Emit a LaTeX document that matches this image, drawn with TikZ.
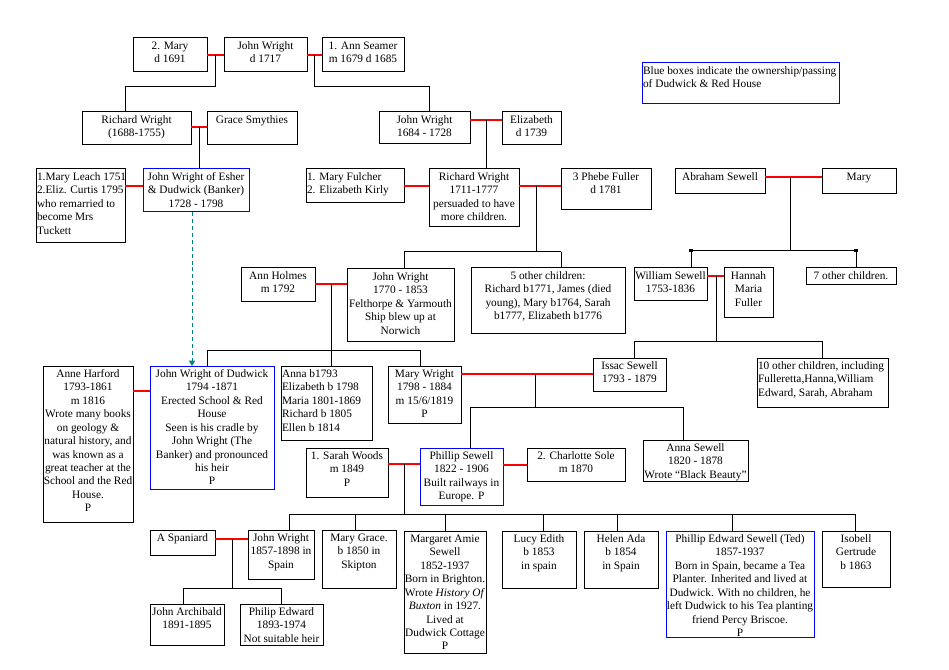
\documentclass[tikz,border=0pt]{standalone}
\usepackage{fontspec}
\setmainfont{Liberation Serif}
\usetikzlibrary{arrows.meta,calc}
\definecolor{boxblue}{RGB}{0,0,255}
\definecolor{marred}{RGB}{255,0,0}
\definecolor{dashteal}{RGB}{0,128,128}
\newcommand\famfont{\fontsize{8.5pt}{10.1pt}\selectfont}
\newcommand\CA{\centering}
\newcommand\LA{\raggedright\leftskip=0.8pt\relax}
\newcommand\fitline[1]{\makebox[\linewidth]{#1}}
% name x1 y1 x2 y2 style align text
\newcommand\pbx[8]{%
  \pgfmathsetlengthmacro\famw{(#4-#2)*0.75pt}%
  \pgfmathsetlengthmacro\famh{(#5-#3)*0.75pt}%
  \node[#6, anchor=north west] (#1) at (#2,#3)
    {\parbox[c][\famh][t]{\famw}{\famfont#7\rule{0pt}{8.4pt}#8}};%
}
\begin{document}
\begin{tikzpicture}[x=0.75pt,y=-0.75pt,
  box/.style={draw=black, line width=0.75pt, inner sep=0pt, outer sep=0pt},
  bluebox/.style={box, draw=boxblue},
  ln/.style={draw=black, line width=0.75pt},
  mar/.style={draw=marred, line width=0.8pt},
  dashln/.style={draw=dashteal, line width=0.75pt, dash pattern=on 3pt off 2.2pt,
    -{Triangle[width=4.5pt,length=4pt]}}]
\useasboundingbox (0,0) rectangle (949,670);
\fill[white] (0,0) rectangle (949,670);

% ---------- boxes ----------
\pbx{mary2}{133}{38}{207}{72}{box}{\CA}{2. Mary\\d 1691}
\pbx{jw1717}{224}{38}{307}{72}{box}{\CA}{John Wright\\d 1717}
\pbx{ann}{322}{38}{404}{72}{box}{\CA}{1. Ann Seamer\\m 1679 d 1685}
\pbx{rw1688}{82}{112}{191}{145}{box}{\CA}{Richard Wright\\(1688-1755)}
\pbx{grace}{207}{112}{297}{145}{box}{\CA}{Grace Smythies}
\pbx{jw1684}{379}{112}{470}{144}{box}{\CA}{John Wright\\1684 - 1728}
\pbx{eliz}{502}{112}{561}{145}{box}{\CA}{Elizabeth\\d 1739}
\pbx{legend}{642}{63}{839}{104}{bluebox}{\LA}{Blue boxes indicate the ownership/passing\\of Dudwick \& Red House}
\pbx{leach}{36}{169}{125}{243}{box}{\LA}{\mbox{1.Mary Leach 1751}\\\mbox{2.Eliz. Curtis 1795}\\who remarried to\\become Mrs\\Tuckett}
\pbx{esher}{143}{169}{249}{212}{bluebox}{\CA}{John Wright of Esher\\\& Dudwick (Banker)\\1728 - 1798}
\pbx{fulcher}{306}{169}{404}{203}{box}{\LA}{1. Mary Fulcher\\2. Elizabeth Kirly}
\pbx{rw1711}{429}{169}{519}{227}{box}{\CA}{Richard Wright\\1711-1777\\persuaded to have\\more children.}
\pbx{phebe}{561}{169}{651}{210}{box}{\CA}{3 Phebe Fuller\\d 1781}
\pbx{abraham}{675}{169}{765}{194}{box}{\CA}{Abraham Sewell}
\pbx{marys}{822}{169}{896}{194}{box}{\CA}{Mary}
\pbx{holmes}{241}{268}{315}{301}{box}{\CA}{Ann Holmes\\m 1792}
\pbx{jw1770}{347}{269}{454}{341}{box}{\CA}{John Wright\\1770 - 1853\\\fitline{Felthorpe \& Yarmouth}\\Ship blew up at\\Norwich}
\pbx{other5}{471}{268}{625}{333}{box}{\CA}{5 other children:\\Richard b1771, James (died\\young), Mary b1764, Sarah\\b1777, Elizabeth b1776}
\pbx{william}{634}{268}{707}{300}{box}{\CA}{William Sewell\\1753-1836}
\pbx{hannah}{724}{268}{773}{317}{box}{\CA}{Hannah\\Maria\\Fuller}
\pbx{other7}{806}{268}{896}{284}{box}{\CA}{7 other children.}
\pbx{harford}{43}{366}{133}{522}{box}{\CA}{Anne Harford\\1793-1861\\m 1816\\Wrote many books\\on geology \&\\\fitline{natural history, and}\\was known as a\\\fitline{great teacher at the}\\\fitline{School and the Red}\\House.\\P}
\pbx{dudwick}{150}{366}{274}{489}{bluebox}{\CA}{John Wright of Dudwick\\1794 -1871\\Erected School \& Red\\House\\Seen is his cradle by\\John Wright (The\\\fitline{Banker) and pronounced}\\his heir\\P}
\pbx{anna1793}{281}{366}{372}{440}{box}{\LA}{Anna b1793\\Elizabeth b 1798\\Maria 1801-1869\\Richard b 1805\\Ellen b 1814}
\pbx{maryw}{388}{366}{461}{423}{box}{\CA}{Mary Wright\\1798 - 1884\\m 15/6/1819\\P}
\pbx{issac}{593}{358}{666}{391}{box}{\CA}{Issac Sewell\\1793 - 1879}
\pbx{other10}{757}{358}{888}{407}{box}{\LA}{\mbox{10 other children, including}\\Fulleretta,Hanna,William\\Edward, Sarah, Abraham}
\pbx{sarah}{306}{448}{388}{497}{box}{\CA}{1. Sarah Woods\\m 1849\\P}
\pbx{phillip}{420}{448}{503}{505}{bluebox}{\CA}{Phillip Sewell\\1822 - 1906\\Built railways in\\Europe. P}
\pbx{charlotte}{527}{448}{625}{481}{box}{\CA}{2. Charlotte Sole\\m 1870}
\pbx{annas}{643}{440}{748}{481}{box}{\CA}{Anna Sewell\\1820 - 1878\\\fitline{Wrote “Black Beauty”}}
\pbx{spaniard}{150}{530}{215}{555}{box}{\CA}{A Spaniard}
\pbx{jw1857}{248}{530}{314}{579}{box}{\CA}{John Wright\\1857-1898 in\\Spain}
\pbx{marygrace}{322}{530}{396}{588}{box}{\CA}{Mary Grace.\\b 1850 in\\Skipton}
\pbx{margaret}{404}{531}{486}{653}{box}{\CA}{Margaret Amie\\Sewell\\1852-1937\\\fitline{Born in Brighton.}\\\fitline{Wrote \textit{History Of}}\\\fitline{\textit{Buxton} in 1927.}\\Lived at\\\fitline{Dudwick Cottage}\\P}
\pbx{lucy}{502}{531}{576}{588}{box}{\CA}{Lucy Edith\\b 1853\\in spain}
\pbx{helen}{584}{531}{658}{588}{box}{\CA}{Helen Ada\\b 1854\\in Spain}
\pbx{ted}{666}{531}{814}{637}{bluebox}{\CA}{Phillip Edward Sewell (Ted)\\1857-1937\\Born in Spain, became a Tea\\\fitline{Planter. Inherited and lived at}\\\fitline{Dudwick. With no children, he}\\\fitline{left Dudwick to his Tea planting}\\friend Percy Briscoe.\\P}
\pbx{isobell}{822}{531}{890}{587}{box}{\CA}{Isobell\\Gertrude\\b 1863}
\pbx{archibald}{150}{604}{224}{645}{box}{\CA}{John Archibald\\1891-1895}
\pbx{philipe}{240}{604}{323}{645}{box}{\CA}{Philip Edward\\1893-1974\\\fitline{Not suitable heir}}

% ---------- junction coordinates ----------
\coordinate (j1) at (215,55);  \coordinate (b1) at (125,87);
\coordinate (j2) at (314,55);  \coordinate (b2) at (429,87);
\coordinate (j3) at (199,127);
\coordinate (j4) at (486,120);
\coordinate (j5) at (134,186);
\coordinate (j6) at (416,186);
\coordinate (j7) at (536,186); \coordinate (b7l) at (404,252); \coordinate (b7r) at (561,252);
\coordinate (d1) at (192,212);
\coordinate (j8) at (331,284); \coordinate (b8l) at (207,350); \coordinate (b8r) at (420,350);
\coordinate (j9) at (790,177); \coordinate (b9l) at (691,251); \coordinate (b9r) at (856,251);
\coordinate (j10) at (716,276); \coordinate (b10l) at (634,341); \coordinate (b10r) at (822,341);
\coordinate (jh) at (140,391);
\coordinate (j11) at (535,374); \coordinate (b11l) at (470,407); \coordinate (b11r) at (683,407);
\coordinate (j12) at (404,464); \coordinate (b12l) at (289,514); \coordinate (b12r) at (855,514);
\coordinate (k1) at (355,514); \coordinate (k2) at (445,514); \coordinate (k3) at (543,514);
\coordinate (k4) at (617,514); \coordinate (k5) at (732,514);
\coordinate (jc) at (515,465);
\coordinate (j13) at (232,539); \coordinate (b13l) at (183,588); \coordinate (b13r) at (281,588);

% ---------- marriage lines (red) ----------
\draw[mar] (mary2.east |- j1) -- (jw1717.west |- j1);
\draw[mar] (jw1717.east |- j2) -- (ann.west |- j2);
\draw[mar] (rw1688.east |- j3) -- (grace.west |- j3);
\draw[mar] (jw1684.east |- j4) -- (eliz.west |- j4);
\draw[mar] (leach.east |- j5) -- (esher.west |- j5);
\draw[mar] (fulcher.east |- j6) -- (rw1711.west |- j6);
\draw[mar] (rw1711.east |- j7) -- (phebe.west |- j7);
\draw[mar] (holmes.east |- j8) -- (jw1770.west |- j8);
\draw[mar] (abraham.east |- j9) -- (marys.west |- j9);
\draw[mar] (william.east |- j10) -- (hannah.west |- j10);
\draw[mar] (harford.east |- jh) -- (dudwick.west |- jh);
\draw[mar] (maryw.east |- j11) -- (issac.west |- j11);
\draw[mar] (sarah.east |- j12) -- (phillip.west |- j12);
\draw[mar] (phillip.east |- jc) -- (charlotte.west |- jc);
\draw[mar] (spaniard.east |- j13) -- (jw1857.west |- j13);

% ---------- descent lines (black) ----------
\draw[ln] (j1) |- (b1) -- (b1 |- rw1688.north);
\draw[ln] (j2) |- (b2) -- (b2 |- jw1684.north);
\draw[ln] (j3) -- (j3 |- esher.north);
\draw[ln] (j4) -- (j4 |- rw1711.north);
\draw[ln] (j7) -- (j7 |- b7l);
\draw[ln] (b7l) -- (b7r);
\draw[ln] (b7l) -- (b7l |- jw1770.north);
\draw[ln] (b7r) -- (b7r |- other5.north);
\draw[ln] (j8) -- (j8 |- b8l);
\draw[ln] (b8l) -- (b8r);
\draw[ln] (b8l) -- (b8l |- dudwick.north);
\draw[ln] (j8 |- b8l) -- (j8 |- anna1793.north);
\draw[ln] (b8r) -- (b8r |- maryw.north);
\draw[ln] (j9) -- (j9 |- b9l);
\draw[ln] (b9l) -- (b9r);
\draw[ln] (b9l) -- (b9l |- william.north);
\draw[ln] (b9r) -- (b9r |- other7.north);
\fill[black] ($(b9l)+(-2,-2)$) rectangle ($(b9l)+(2,1)$);
\fill[black] ($(b9r)+(-2,-2)$) rectangle ($(b9r)+(2,1)$);
\draw[ln] (j10) -- (j10 |- b10l);
\draw[ln] (b10l) -- (b10r);
\draw[ln] (b10l) -- (b10l |- issac.north);
\draw[ln] (b10r) -- (b10r |- other10.north);
\draw[ln] (j11) -- (j11 |- b11l);
\draw[ln] (b11l) -- (b11r);
\draw[ln] (b11l) -- (b11l |- phillip.north);
\draw[ln] (b11r) -- (b11r |- annas.north);
\draw[ln] (j12) -- (j12 |- b12l);
\draw[ln] (b12l) -- (b12r);
\draw[ln] (b12l) -- (b12l |- jw1857.north);
\draw[ln] (k1) -- (k1 |- marygrace.north);
\draw[ln] (k2) -- (k2 |- margaret.north);
\draw[ln] (k3) -- (k3 |- lucy.north);
\draw[ln] (k4) -- (k4 |- helen.north);
\draw[ln] (k5) -- (k5 |- ted.north);
\draw[ln] (b12r) -- (b12r |- isobell.north);
\draw[ln] (j13) -- (j13 |- b13l);
\draw[ln] (b13l) -- (b13r);
\draw[ln] (b13l) -- (b13l |- archibald.north);
\draw[ln] (b13r) -- (b13r |- philipe.north);

% ---------- inheritance (dashed) ----------
\draw[dashln] (d1 |- esher.south) -- (d1 |- dudwick.north);
\end{tikzpicture}
\end{document}
